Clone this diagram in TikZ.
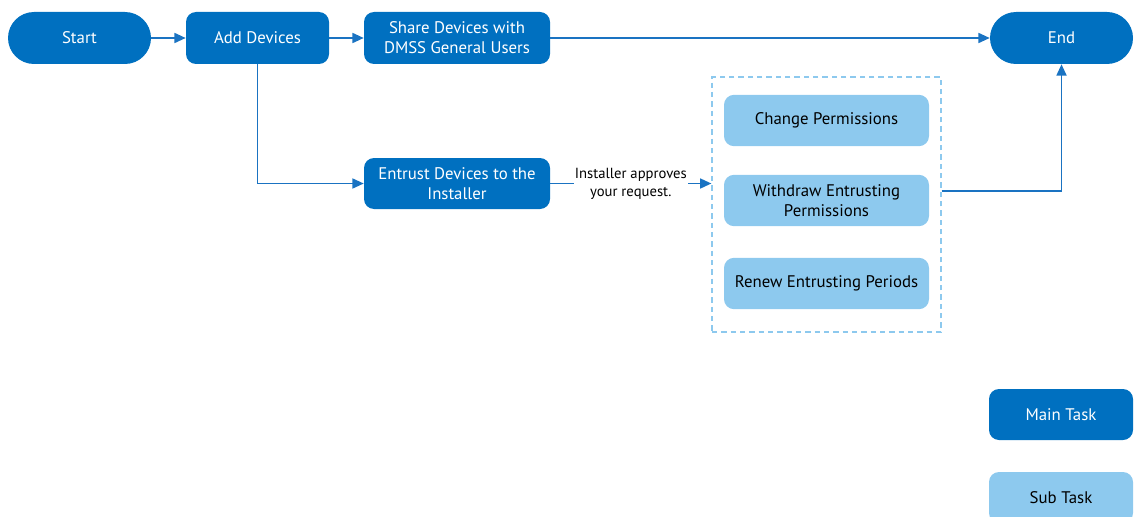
\documentclass[tikz,border=0pt]{standalone}
\usepackage{fontspec}
\setmainfont{PT Sans}
\usetikzlibrary{arrows.meta,positioning}
\definecolor{mainblue}{HTML}{0070C0}
\definecolor{subblue}{HTML}{8DC9EE}
\definecolor{linec}{HTML}{1A73C2}
\tikzset{
  boxfont/.style={font=\fontsize{12.6}{15}\selectfont},
  mainbox/.style={draw=none,fill=mainblue,text=white,rounded corners=7.5pt,minimum height=39pt,align=center,boxfont},
  subbox/.style={draw=none,fill=subblue,text=black,rounded corners=7.5pt,minimum height=38.5pt,minimum width=153.75pt,align=center,boxfont},
  terminal/.style={draw=none,fill=mainblue,text=white,rounded corners=19.5pt,minimum height=39pt,minimum width=107.25pt,boxfont},
  conn/.style={draw=linec,line width=1.3pt,-{Triangle[length=8.5pt,width=7.5pt]}},
}
\begin{document}
\begin{tikzpicture}[x=0.75pt,y=-0.75pt]
\useasboundingbox (0,0) rectangle (1134,517);
\node[terminal] (start) at (79.5,38) {Start};
\node[mainbox,minimum width=107.25pt] (add) at (257.5,38) {Add Devices};
\node[mainbox,minimum width=139.5pt] (share) at (457,38) {Share Devices with\\DMSS General Users};
\node[terminal] (end) at (1061.5,38) {End};
\node[mainbox,minimum width=139.5pt,minimum height=38.25pt] (entrust) at (457,183.5) {Entrust Devices to the\\Installer};
\node[draw=subblue,line width=0.9pt,dash pattern=on 4pt off 3pt,minimum width=171.75pt,minimum height=191.25pt] (group) at (826.5,204.5) {};
\node[subbox] (change) at (826.5,120.5) {Change Permissions};
\node[subbox] (withdraw) at (826.5,200.5) {Withdraw Entrusting\\Permissions};
\node[subbox] (renew) at (826.5,283.5) {Renew Entrusting Periods};
\node[mainbox,minimum width=108pt,minimum height=38.25pt] (main) at (1061,414.5) {Main Task};
\node[subbox,minimum width=108pt,minimum height=38.25pt] (sub) at (1061,497.5) {Sub Task};
\draw[conn] (start) -- (add);
\draw[conn] (add) -- (share);
\draw[conn] (share) -- (end);
\draw[conn] (add.south) |- (entrust.west);
\coordinate (gin) at (group.west |- entrust.east);
\draw[conn] (entrust.east) -- node[fill=white,inner sep=1pt,align=center,font=\fontsize{11}{13.5}\selectfont,text=black] (lbl) {Installer approves\\your request.} (gin);
\coordinate (gout) at (group.east |- 941,191);
\draw[conn] (gout) -| (end.south);
\end{tikzpicture}
\end{document}
